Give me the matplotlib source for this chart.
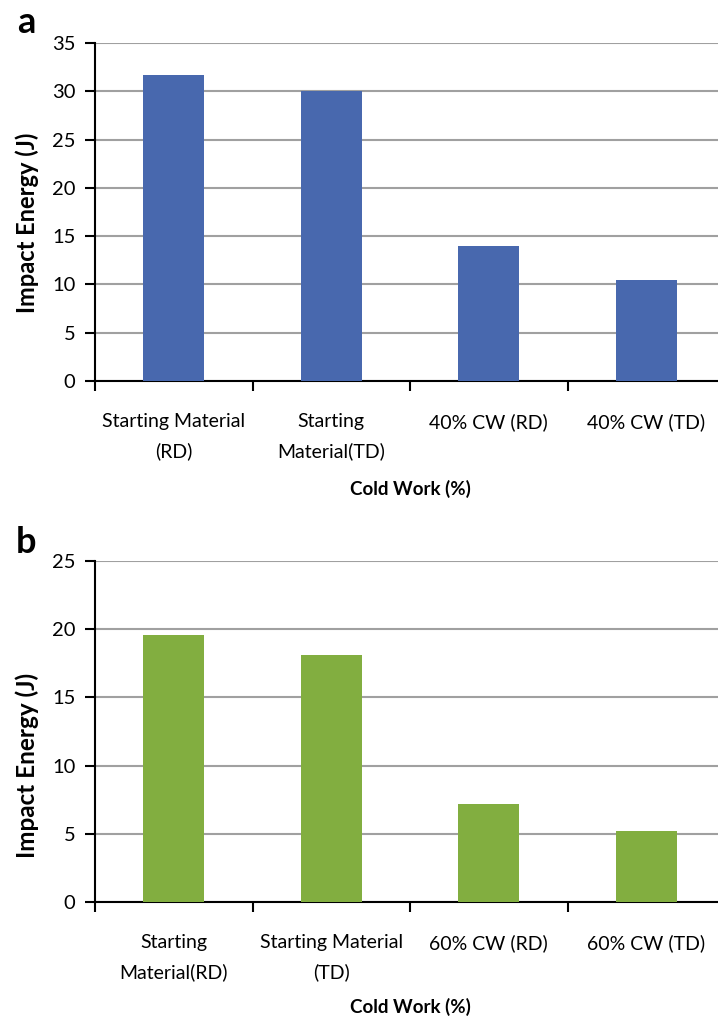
import matplotlib
matplotlib.use("Agg")
import matplotlib.pyplot as plt
import numpy as np

plt.rcParams['font.family'] = ['Lato', 'DejaVu Sans']

cats_a = ["Starting Material\n(RD)", "Starting\nMaterial(TD)", "40% CW (RD)", "40% CW (TD)"]
vals_a = [31.7, 30.0, 14.0, 10.5]
cats_b = ["Starting\nMaterial(RD)", "Starting Material\n(TD)", "60% CW (RD)", "60% CW (TD)"]
vals_b = [19.6, 18.1, 7.2, 5.2]
yticks_a = [0, 5, 10, 15, 20, 25, 30, 35]
yticks_b = [0, 5, 10, 15, 20, 25]

W, H = 718, 1023
fig = plt.figure(figsize=(W/100, H/100), dpi=100)

def make(ax_rect, cats, vals, yticks, color, ylab_y, ylab_size, xlab_pad):
    ax = fig.add_axes(ax_rect)
    x = np.arange(len(cats))
    ax.bar(x, vals, width=0.39, color=color, zorder=3)
    ax.set_xlim(-0.5, len(cats) - 0.5)
    ax.set_ylim(0, yticks[-1])
    ax.set_yticks(yticks)
    ax.yaxis.grid(True, color='#a0a0a0', lw=1.5, zorder=0)
    ax.set_xticks(np.arange(len(cats) + 1) - 0.5)
    ax.set_xticklabels([])
    ax.set_xticks(x, minor=True)
    ax.set_xticklabels(cats, minor=True, fontsize=14, linespacing=1.85)
    ax.tick_params(axis='x', which='major', length=7, width=1.5, direction='out')
    ax.tick_params(axis='x', which='minor', length=0, pad=23)
    ax.tick_params(axis='y', length=7, width=1.5, labelsize=14.5, pad=7)
    for s in ['top', 'right']:
        ax.spines[s].set_visible(False)
    ax.spines['left'].set_linewidth(1.5)
    ax.spines['bottom'].set_linewidth(1.5)
    ax.set_ylabel("Impact Energy (J)", fontsize=ylab_size, fontweight='bold')
    ax.yaxis.label.set_va('center')
    ax.yaxis.set_label_coords((27 - 95) / 630, ylab_y)
    ax.set_xlabel("Cold Work (%)", fontsize=13.5, fontweight='bold', labelpad=xlab_pad)
    return ax

ax1 = make([95/W, 1 - 381/H, 630/W, 338/H], cats_a, vals_a, yticks_a, '#4868ae', 0.467, 17, 14)
ax2 = make([95/W, 1 - 902/H, 630/W, 341/H], cats_b, vals_b, yticks_b, '#82ae40', 0.40, 17.5, 12)

fig.text(17/W, 1 - 33/H, 'a', fontsize=26, fontweight='bold', va='baseline', ha='left')
fig.text(16/W, 1 - 553/H, 'b', fontsize=26, fontweight='bold', va='baseline', ha='left')

fig.savefig("out.png", dpi=100)
